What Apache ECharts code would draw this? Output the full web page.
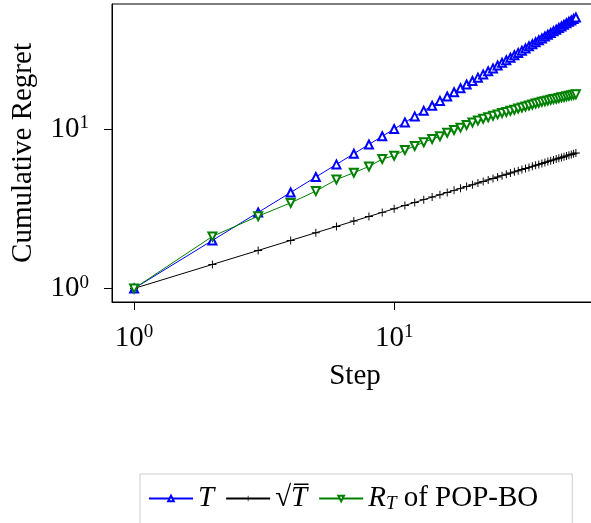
<!DOCTYPE html>
<html><head><meta charset="utf-8">
<script src="https://cdn.jsdelivr.net/npm/echarts@6/dist/echarts.min.js"></script>
<style>html,body{margin:0;padding:0;background:#fff}#c{width:591px;height:523px}</style>
</head><body><div id="c"></div>
<script>
const steps = [1,2,3,4,5,6,7,8,9,10,11,12,13,14,15,16,17,18,19,20,21,22,23,24,25,26,27,28,29,30,31,32,33,34,35,36,37,38,39,40,41,42,43,44,45,46,47,48,49,50];
const linearT = [1,2,3,4,5,6,7,8,9,10,11,12,13,14,15,16,17,18,19,20,21,22,23,24,25,26,27,28,29,30,31,32,33,34,35,36,37,38,39,40,41,42,43,44,45,46,47,48,49,50];
const sqrtT = [1,1.414,1.732,2,2.236,2.449,2.646,2.828,3,3.162,3.317,3.464,3.606,3.742,3.873,4,4.123,4.243,4.359,4.472,4.583,4.690,4.796,4.899,5,5.099,5.196,5.292,5.385,5.477,5.568,5.657,5.745,5.831,5.916,6,6.083,6.164,6.245,6.325,6.403,6.481,6.557,6.633,6.708,6.782,6.856,6.928,7,7.071];
const regretPOPBO = [1,2.12,2.84,3.44,4.08,4.82,5.32,5.82,6.48,6.8,7.38,7.82,8.25,8.65,9.0,9.48,9.86,10.2,10.6,11.0,11.3,11.6,11.85,12.1,12.35,12.6,12.8,13.0,13.2,13.45,13.65,13.85,14.05,14.25,14.45,14.6,14.8,14.95,15.1,15.25,15.4,15.5,15.65,15.8,15.9,16.05,16.15,16.3,16.4,16.5];
const tickValues = [1, 10];
const seriesNames = ['T', 'sqrtT', 'RT'];
const xTitle = 'Step';
const yTitle = 'Cumulative Regret';

const F = 'Liberation Serif';
const FS = 29;
const pairs = arr => steps.map((s, i) => [s, arr[i]]);
const axisMin = 0.8223, axisMax = 60.81;
const labelRich = {
  b: {fontSize: FS, fontFamily: F, color: '#000', lineHeight: 30, verticalAlign: 'middle'},
  s: {fontSize: 19, fontFamily: F, color: '#000', lineHeight: 14, verticalAlign: 'top'}
};
const fmt = v => '{b|10}{s|' + Math.round(Math.log10(v)) + '}';
function axisCommon(isX) {
  return {
    type: 'log', logBase: 10, min: axisMin, max: axisMax,
    axisLine: {show: true, lineStyle: {color: '#000', width: 1}},
    axisTick: {show: true, customValues: tickValues, length: 8, inside: false, lineStyle: {color: '#000', width: 1}},
    axisLabel: {customValues: tickValues, formatter: fmt, rich: labelRich, margin: isX ? 21 : 23, color: '#000'},
    splitLine: {show: false}, minorTick: {show: false},
    nameLocation: 'middle',
    nameTextStyle: {fontSize: FS, fontFamily: F, color: '#000'}
  };
}
const chart = echarts.init(document.getElementById('c'));
const legendText = {
  T: '{i|T}',
  sqrtT: '{n|\u221A}{i|T\u0305}',
  RT: '{i|R}{sub|T}{n| of POP-BO}'
};
chart.setOption({
  animation: false,
  backgroundColor: '#fff',
  grid: {left: 112, top: 4, width: 486, height: 298, show: true, borderColor: '#000', borderWidth: 1,
         outerBoundsMode: 'none'},
  xAxis: Object.assign(axisCommon(true), {name: xTitle, nameGap: 60}),
  yAxis: Object.assign(axisCommon(false), {name: yTitle, nameGap: 74, nameRotate: 90}),
  legend: {
    left: 140, top: 474, orient: 'horizontal',
    padding: [10, 34, 12, 8],
    borderColor: '#cccccc', borderWidth: 1,
    itemWidth: 44, itemHeight: 7, itemGap: 11,
    data: seriesNames,
    formatter: n => legendText[n],
    textStyle: {
      fontSize: FS, fontFamily: F, color: '#000',
      rich: {
        i: {fontSize: FS, fontFamily: F, fontStyle: 'italic', color: '#000', lineHeight: 30},
        n: {fontSize: FS, fontFamily: F, color: '#000', lineHeight: 30},
        sub: {fontSize: 19, fontFamily: F, fontStyle: 'italic', color: '#000', lineHeight: 14, verticalAlign: 'bottom'}
      }
    }
  },
  series: [
    {name: seriesNames[0], type: 'line', data: pairs(linearT), color: '#0000ff',
     symbol: 'emptyTriangle', symbolSize: 8, lineStyle: {width: 1},
     itemStyle: {color: '#0000ff', borderWidth: 1}},
    {name: seriesNames[1], type: 'line', data: pairs(sqrtT), color: '#000000',
     symbol: 'path://M4.4,0H5.6V4.4H10V5.6H5.6V10H4.4V5.6H0V4.4H4.4Z', symbolSize: 8, lineStyle: {width: 1},
     itemStyle: {color: '#000000'}},
    {name: seriesNames[2], type: 'line', data: pairs(regretPOPBO), color: '#008000',
     symbol: 'emptyTriangle', symbolRotate: 180, symbolSize: 8, lineStyle: {width: 1},
     itemStyle: {color: '#008000', borderWidth: 1}}
  ]
});
</script></body></html>
